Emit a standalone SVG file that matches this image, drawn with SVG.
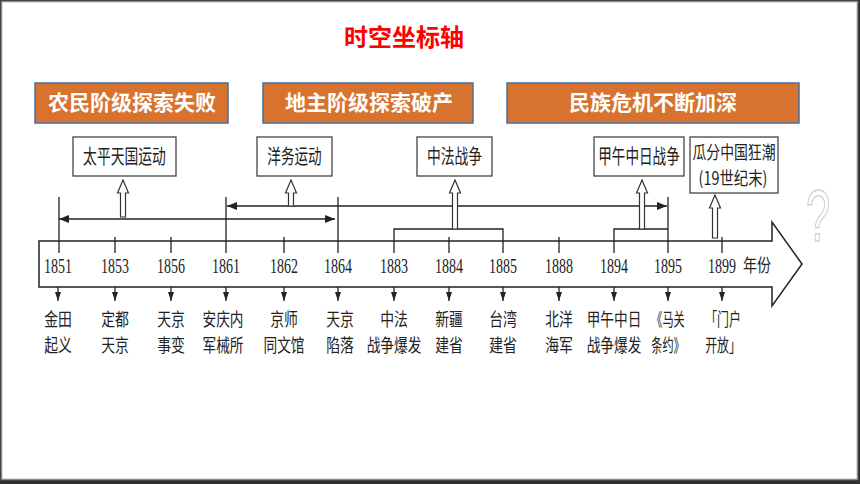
<svg xmlns="http://www.w3.org/2000/svg" width="860" height="484" viewBox="0 0 860 484">
<defs>
<style>
.orange{fill:#D8732F;stroke:#4470A0;stroke-width:1.5}
.otxt{font-family:"Noto Sans CJK SC","Noto Sans",sans-serif;font-weight:bold;font-size:21px;fill:#fff;text-anchor:middle}
.ebox{fill:#fff;stroke:#444;stroke-width:1.3}
.etxt{font-family:"Noto Sans CJK SC",sans-serif;font-size:20px;fill:#222;text-anchor:middle}
.hollow{fill:#fff;stroke:#333;stroke-width:1.2;stroke-linejoin:miter}
.ln{stroke:#222;stroke-width:1.3;fill:none}
.year{font-family:"Liberation Serif",serif;font-size:21px;fill:#222;text-anchor:middle}
.lab{font-family:"Noto Sans CJK SC",sans-serif;font-size:18px;fill:#222;text-anchor:middle}
</style>
<marker id="ah" viewBox="0 0 10 8" refX="10" refY="4" markerWidth="10" markerHeight="8" markerUnits="userSpaceOnUse" orient="auto-start-reverse">
<path d="M0,0 L10,4 L0,8 z" fill="#222"/>
</marker>
<marker id="dh" viewBox="0 0 6 9" refX="3" refY="9" markerWidth="6" markerHeight="9" markerUnits="userSpaceOnUse" orient="0">
<path d="M0,0 L6,0 L3,9 z" fill="#222"/>
</marker>
</defs>
<rect x="0" y="0" width="860" height="484" fill="#2f2f2f"/>
<rect x="1.5" y="1.5" width="856" height="478" fill="#fff" stroke="#888" stroke-width="1.5"/>

<text x="404" y="46" font-family="'Noto Sans CJK SC',sans-serif" font-weight="bold" font-size="24" fill="#FF0000" text-anchor="middle">时空坐标轴</text>

<g id="stage1"><rect class="orange" x="35" y="83" width="193" height="40"/><text class="otxt" x="132" y="110">农民阶级探索失败</text></g>
<g id="stage2"><rect class="orange" x="263" y="83" width="210" height="40"/><text class="otxt" x="369" y="110">地主阶级探索破产</text></g>
<g id="stage3"><rect class="orange" x="507" y="83" width="292" height="40"/><text class="otxt" x="653" y="110">民族危机不断加深</text></g>

<g id="ev-taiping"><rect class="ebox" x="73" y="137" width="103" height="39"/><text class="etxt" transform="translate(124.5,164) scale(0.69,1)">太平天国运动</text></g>
<g id="ev-yangwu"><rect class="ebox" x="257" y="137" width="75" height="39"/><text class="etxt" transform="translate(294.5,164) scale(0.68,1)">洋务运动</text></g>
<g id="ev-zhongfa"><rect class="ebox" x="417" y="137" width="75" height="39"/><text class="etxt" transform="translate(454.5,164) scale(0.69,1)">中法战争</text></g>
<g id="ev-jiawu"><rect class="ebox" x="594" y="137" width="90" height="39"/><text class="etxt" transform="translate(639,164) scale(0.68,1)">甲午中日战争</text></g>
<g id="ev-guafen"><rect class="ebox" x="690" y="137" width="88" height="56"/><text class="etxt" style="font-size:18px" transform="translate(734,158.5) scale(0.77,1)">瓜分中国狂潮</text><text class="etxt" style="font-size:18px" transform="translate(733,185) scale(0.8,1)">(19世纪末)</text></g>

<g id="axis">
<polygon points="39,241 772,241 772,222 802,264 772,306 772,287 39,287" fill="#fff" stroke="#222" stroke-width="1.5" stroke-linejoin="miter"/>
<text class="year" transform="translate(58,273) scale(0.667,1)">1851</text>
<text class="year" transform="translate(115,273) scale(0.667,1)">1853</text>
<text class="year" transform="translate(171,273) scale(0.667,1)">1856</text>
<text class="year" transform="translate(226,273) scale(0.667,1)">1861</text>
<text class="year" transform="translate(284,273) scale(0.667,1)">1862</text>
<text class="year" transform="translate(338,273) scale(0.667,1)">1864</text>
<text class="year" transform="translate(394,273) scale(0.667,1)">1883</text>
<text class="year" transform="translate(449,273) scale(0.667,1)">1884</text>
<text class="year" transform="translate(503,273) scale(0.667,1)">1885</text>
<text class="year" transform="translate(559,273) scale(0.667,1)">1888</text>
<text class="year" transform="translate(614,273) scale(0.667,1)">1894</text>
<text class="year" transform="translate(668,273) scale(0.667,1)">1895</text>
<text class="year" transform="translate(722,273) scale(0.667,1)">1899</text>
<text font-family="'Noto Sans CJK SC',sans-serif" font-size="18" fill="#222" transform="translate(743,272) scale(0.78,1)">年份</text>
</g>

<g id="connectors">
<path class="ln" d="M59,197V253M226,197V253M338,197V253M668,197V253"/>
<path class="ln" d="M115,237V253M171,237V253M284,237V253M449,237V253M559,237V253M722,237V253"/>
<path class="ln" d="M394,253V229H503V253M614,253V229H668"/>
<line class="ln" x1="59" y1="219" x2="335" y2="219" marker-start="url(#ah)" marker-end="url(#ah)"/>
<line class="ln" x1="227" y1="206" x2="667" y2="206" marker-start="url(#ah)" marker-end="url(#ah)"/>
<path class="hollow" d="M123,180 L128.5,193 L125.5,193 L125.5,217 L120.5,217 L120.5,193 L117.5,193 Z"/>
<path class="hollow" d="M291,180 L296.5,193 L293.5,193 L293.5,206 L288.5,206 L288.5,193 L285.5,193 Z"/>
<path class="hollow" d="M455,180 L460.5,193 L457.5,193 L457.5,229 L452.5,229 L452.5,193 L449.5,193 Z"/>
<path class="hollow" d="M642,180 L647.5,193 L644.5,193 L644.5,229 L639.5,229 L639.5,193 L636.5,193 Z"/>
<path class="hollow" d="M715,195 L720.5,208 L717.5,208 L717.5,238 L712.5,238 L712.5,208 L709.5,208 Z"/>
<g class="ln" marker-end="url(#dh)">
<line x1="58" y1="287" x2="58" y2="301"/>
<line x1="115" y1="287" x2="115" y2="301"/>
<line x1="171" y1="287" x2="171" y2="301"/>
<line x1="226" y1="287" x2="226" y2="301"/>
<line x1="284" y1="287" x2="284" y2="301"/>
<line x1="338" y1="287" x2="338" y2="301"/>
<line x1="394" y1="287" x2="394" y2="301"/>
<line x1="449" y1="287" x2="449" y2="301"/>
<line x1="503" y1="287" x2="503" y2="301"/>
<line x1="559" y1="287" x2="559" y2="301"/>
<line x1="614" y1="287" x2="614" y2="301"/>
<line x1="668" y1="287" x2="668" y2="301"/>
<line x1="722" y1="287" x2="722" y2="301"/>
</g>
</g>

<g id="labels">
<g id="l1851"><text class="lab" transform="translate(58,325.5) scale(0.77,1)">金田</text><text class="lab" transform="translate(58,351.5) scale(0.77,1)">起义</text></g>
<g id="l1853"><text class="lab" transform="translate(115,325.5) scale(0.77,1)">定都</text><text class="lab" transform="translate(115,351.5) scale(0.77,1)">天京</text></g>
<g id="l1856"><text class="lab" transform="translate(171,325.5) scale(0.77,1)">天京</text><text class="lab" transform="translate(171,351.5) scale(0.77,1)">事变</text></g>
<g id="l1861"><text class="lab" transform="translate(223,325.5) scale(0.76,1)">安庆内</text><text class="lab" transform="translate(223,351.5) scale(0.76,1)">军械所</text></g>
<g id="l1862"><text class="lab" transform="translate(284,325.5) scale(0.77,1)">京师</text><text class="lab" transform="translate(284,351.5) scale(0.76,1)">同文馆</text></g>
<g id="l1864"><text class="lab" transform="translate(340,325.5) scale(0.77,1)">天京</text><text class="lab" transform="translate(340,351.5) scale(0.77,1)">陷落</text></g>
<g id="l1883"><text class="lab" transform="translate(394,325.5) scale(0.77,1)">中法</text><text class="lab" transform="translate(394,351.5) scale(0.76,1)">战争爆发</text></g>
<g id="l1884"><text class="lab" transform="translate(449,325.5) scale(0.77,1)">新疆</text><text class="lab" transform="translate(449,351.5) scale(0.77,1)">建省</text></g>
<g id="l1885"><text class="lab" transform="translate(503,325.5) scale(0.77,1)">台湾</text><text class="lab" transform="translate(503,351.5) scale(0.77,1)">建省</text></g>
<g id="l1888"><text class="lab" transform="translate(559,325.5) scale(0.77,1)">北洋</text><text class="lab" transform="translate(559,351.5) scale(0.77,1)">海军</text></g>
<g id="l1894"><text class="lab" transform="translate(614,325.5) scale(0.76,1)">甲午中日</text><text class="lab" transform="translate(614,351.5) scale(0.76,1)">战争爆发</text></g>
<g id="l1895"><text class="lab" transform="translate(668,325.5) scale(0.62,1)">《马关</text><text class="lab" transform="translate(668,351.5) scale(0.62,1)">条约》</text></g>
<g id="l1899"><text class="lab" transform="translate(723,325.5) scale(0.66,1)">「门户</text><text class="lab" transform="translate(723,351.5) scale(0.66,1)">开放」</text></g>
</g>

<text font-family="'Liberation Sans',sans-serif" font-size="72" fill="#fff" stroke="#cfcfcf" stroke-width="1.5" text-anchor="middle" transform="translate(818,241) scale(0.6,1)">?</text>
</svg>
